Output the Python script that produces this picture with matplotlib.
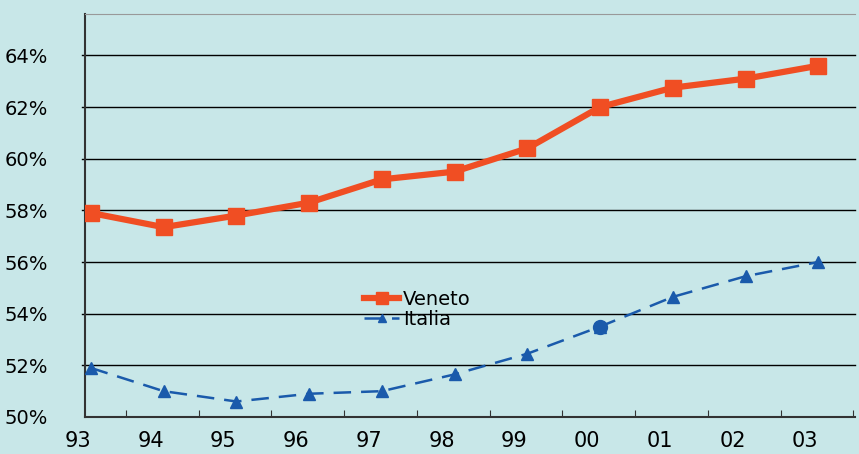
import numpy as np
import matplotlib
matplotlib.use("Agg")
import matplotlib.pyplot as plt

years = ["93", "94", "95", "96", "97", "98", "99", "00", "01", "02", "03"]
veneto = [57.9, 57.35, 57.8, 58.3, 59.2, 59.5, 60.4, 62.0, 62.75, 63.1, 63.6]
italia = [51.9, 51.0, 50.6, 50.9, 51.0, 51.65, 52.45, 53.5, 54.65, 55.45, 56.0]
yticks = [50, 52, 54, 56, 58, 60, 62, 64]

bg = "#c8e7e8"
red = "#f04e23"
blue = "#1a5aab"

plt.rcParams['font.family'] = ['DejaVu Sans']

fig = plt.figure(figsize=(8.59, 4.54), dpi=100, facecolor=bg)
ax = fig.add_axes([0.099, 0.0815, 0.896, 0.8875], facecolor=bg)

x = np.arange(len(years))
ax.set_xlim(-0.08, 10.5)
ax.set_ylim(50, 65.6)

# gridlines start a little left of the axis
for v in yticks[1:]:
    ax.plot([-0.12, 10.5], [v, v], color="black", lw=1.0, clip_on=False, zorder=1)

ax.plot(x, veneto, color=red, lw=4.5, marker="s", markersize=11, label="Veneto", zorder=3)
ax.plot(x, italia, color=blue, lw=1.8, ls=(0, (7, 4)), marker="^", markersize=8,
        label="Italia", zorder=3)
# the odd blob at 00
ax.plot([x[7]], [italia[7]], marker="o", color=blue, markersize=10, zorder=4)

ax.set_yticks(yticks)
ax.set_yticklabels([f"{v}%" for v in yticks], fontsize=14)
ax.tick_params(axis="y", length=0, pad=27)

ax.set_xticks(x + 0.48)
ax.set_xticklabels([])
ax.tick_params(axis="x", length=5, direction="in", color="#333333")
for i, lab in enumerate(years):
    ax.text(i - 0.18, -0.035, lab, transform=ax.get_xaxis_transform(), ha="center",
            va="top", fontsize=15)

ax.spines["right"].set_visible(False)
ax.spines["top"].set_color("#999999")
ax.spines["left"].set_color("#333333")
ax.spines["bottom"].set_color("#333333")
ax.spines["left"].set_linewidth(1.5)
ax.spines["bottom"].set_linewidth(1.5)

leg = ax.legend(loc="upper left", bbox_to_anchor=(0.35, 0.34), frameon=False,
                fontsize=14, handlelength=1.8, handletextpad=0.2,
                labelspacing=0.05, borderpad=0, markerscale=0.8)

fig.savefig("out.png", dpi=100, facecolor=bg)
